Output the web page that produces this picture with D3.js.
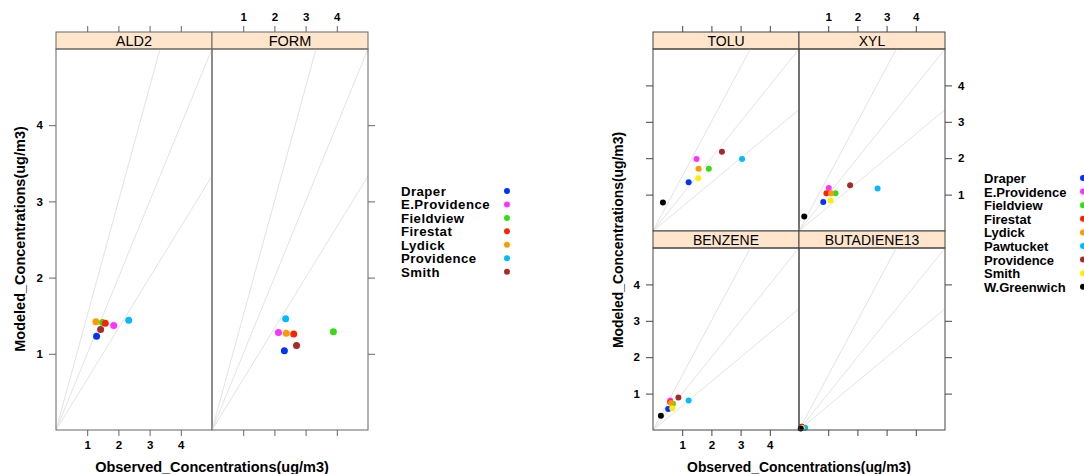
<!DOCTYPE html>
<html>
<head>
<meta charset="utf-8">
<script src="https://cdn.jsdelivr.net/npm/d3@7"></script>
<style>
  body { margin: 0; background: #fff; }
  svg { display: block; font-family: "Liberation Sans", Arial, sans-serif; }
</style>
</head>
<body>
<div id="chart"></div>
<script>
// ---- data: left lattice (7 sites) ----
const sitesA = ["Draper", "E.Providence", "Fieldview", "Firestat", "Lydick", "Providence", "Smith"]
const colorsA = ["#0033ff", "#ff33ff", "#33dd11", "#ff2200", "#ff9900", "#00bbff", "#a52a2a"]
const ald2Obs = [1.30, 1.85, 1.49, 1.58, 1.28, 2.33, 1.43]
const ald2Mod = [1.23, 1.37, 1.41, 1.40, 1.42, 1.44, 1.32]
const formObs = [2.32, 2.13, 3.89, 2.62, 2.38, 2.36, 2.71]
const formMod = [1.04, 1.28, 1.29, 1.26, 1.27, 1.46, 1.11]

// ---- data: right lattice (9 sites) ----
const sitesB = ["Draper", "E.Providence", "Fieldview", "Firestat", "Lydick", "Pawtucket", "Providence", "Smith", "W.Greenwich"]
const colorsB = ["#0033ff", "#ff33ff", "#33dd11", "#ff2200", "#ff9900", "#00bbff", "#a52a2a", "#ffee00", "#000000"]
const toluObs = [1.22, 1.49, 1.91, null, 1.56, 3.05, 2.36, 1.55, 0.34]
const toluMod = [1.34, 1.98, 1.71, null, 1.71, 1.98, 2.18, 1.45, 0.78]
const xylObs = [0.83, 1.02, 1.25, 0.94, 1.10, 2.69, 1.75, 1.08, 0.18]
const xylMod = [0.80, 1.18, 1.04, 1.04, 1.04, 1.17, 1.26, 0.84, 0.40]
const benzObs = [0.52, 0.59, 0.68, 0.59, 0.62, 1.22, 0.87, 0.66, 0.27]
const benzMod = [0.58, 0.81, 0.72, 0.76, 0.74, 0.81, 0.89, 0.60, 0.39]
const butaObs = [0.08, 0.10, 0.09, 0.09, 0.12, 0.21, 0.09, 0.10, 0.06]
const butaMod = [0.06, 0.08, 0.07, 0.09, 0.07, 0.06, 0.09, 0.06, 0.04]

const tickValues = [1, 2, 3, 4]
const refSlopes = [1.5, 1, 1 / 1.5]
const xTitle = "Observed_Concentrations(ug/m3)"
const yTitle = "Modeled_Concentrations(ug/m3)"

const svg = d3.select('#chart').append('svg')
    .attr('width', 1084)
    .attr('height', 474)

let clipId = 0
const fmt = d3.format('d')

/*
 * Draws one lattice (a grid of strip + panel cells) with alternating axes.
 */
function drawLattice(cfg) {
    const g = svg.append('g')
    const panelH = cfg.rowH - cfg.stripH

    cfg.panels.forEach(p => {
        const left = cfg.x0 + p.col * cfg.colW
        const rowTop = cfg.top + p.row * cfg.rowH
        const pTop = rowTop + cfg.stripH
        const pBot = rowTop + cfg.rowH

        const x = d3.scaleLinear().domain([0, 5]).range([left, left + cfg.colW])
        const y = d3.scaleLinear().domain([0, 5]).range([pBot, pTop])

        // strip
        g.append('rect')
            .attr('x', left).attr('y', rowTop)
            .attr('width', cfg.colW).attr('height', cfg.stripH)
            .attr('fill', '#ffe5cc')
            .attr('stroke', cfg.frame).attr('stroke-width', 1)
        g.append('text')
            .attr('x', left + cfg.colW / 2).attr('y', rowTop + cfg.stripH / 2 + 5)
            .attr('text-anchor', 'middle')
            .style('font-size', cfg.stripFont + 'px')
            .text(p.name)

        // reference lines through the origin
        const id = 'clip' + (clipId++)
        g.append('clipPath').attr('id', id)
            .append('rect')
            .attr('x', left).attr('y', pTop)
            .attr('width', cfg.colW).attr('height', panelH)
        const lines = g.append('g').attr('clip-path', `url(#${id})`)
        refSlopes.forEach(s => {
            lines.append('path')
                .datum([[0, 0], [10, 10 * s]])
                .attr('d', d3.line().x(d => x(d[0])).y(d => y(d[1])))
                .style('stroke', '#e3e3e3')
                .style('stroke-width', 1)
                .style('fill', 'none')
        })

        // points
        const pts = p.obs.map((v, i) => ({ x: v, y: p.mod[i], c: cfg.colors[i] }))
            .filter(d => d.x != null)
        g.append('g').selectAll('circle')
            .data(pts)
            .join('circle')
            .attr('cx', d => x(d.x))
            .attr('cy', d => y(d.y))
            .attr('r', cfg.r)
            .attr('fill', d => d.c)

        // panel frame
        g.append('rect')
            .attr('x', left).attr('y', pTop)
            .attr('width', cfg.colW).attr('height', panelH)
            .attr('fill', 'none')
            .attr('stroke', cfg.frame).attr('stroke-width', 1)

        const lastRow = p.row === cfg.nRows - 1
        const lastCol = p.col === cfg.nCols - 1

        // x axes: bottom row gets bottom ticks, top row gets top ticks
        if (lastRow) {
            const ax = d3.axisBottom(x).tickValues(tickValues).tickSize(6).tickSizeOuter(0).tickPadding(5)
                .tickFormat(p.col % 2 !== 0 ? '' : fmt)
            const ga = g.append('g').attr('transform', `translate(0,${pBot})`).call(ax)
            styleAxis(ga, cfg)
        }
        if (p.row === 0) {
            const ax = d3.axisTop(x).tickValues(tickValues).tickSize(6).tickSizeOuter(0).tickPadding(5)
                .tickFormat(p.col % 2 === 0 ? '' : fmt)
            const ga = g.append('g').attr('transform', `translate(0,${rowTop})`).call(ax)
            styleAxis(ga, cfg)
        }

        // y axes: alternate left / right labels by row (counted from bottom)
        const fromBottom = cfg.nRows - 1 - p.row
        if (p.col === 0) {
            const ay = d3.axisLeft(y).tickValues(tickValues).tickSize(7).tickSizeOuter(0).tickPadding(6)
                .tickFormat(fromBottom % 2 !== 0 ? '' : fmt)
            const ga = g.append('g').attr('transform', `translate(${left},0)`).call(ay)
            styleAxis(ga, cfg)
        }
        if (lastCol) {
            const ay = d3.axisRight(y).tickValues(tickValues).tickSize(7).tickSizeOuter(0).tickPadding(6)
                .tickFormat(fromBottom % 2 === 0 ? '' : fmt)
            const ga = g.append('g').attr('transform', `translate(${left + cfg.colW},0)`).call(ay)
            styleAxis(ga, cfg)
        }
    })

    // axis titles
    const midX = cfg.x0 + cfg.nCols * cfg.colW / 2
    g.append('text')
        .attr('x', midX).attr('y', 472)
        .attr('text-anchor', 'middle')
        .style('font-size', cfg.titleFont + 'px').style('font-weight', 'bold')
        .text(xTitle)
    g.append('text')
        .attr('transform', `translate(${cfg.yTitleX},${cfg.yTitleY}) rotate(-90)`)
        .attr('text-anchor', 'middle')
        .style('font-size', cfg.titleFont + 'px').style('font-weight', 'bold')
        .text(yTitle)

    // legend
    const lg = g.append('g')
    cfg.sites.forEach((s, i) => {
        const cy = cfg.legY + i * cfg.legStep
        lg.append('text')
            .attr('x', cfg.legX).attr('y', cy + 5)
            .style('font-size', cfg.legFont + 'px').style('font-weight', 'bold')
            .style('letter-spacing', cfg.legSpacing + 'px')
            .text(s)
        lg.append('circle')
            .attr('cx', cfg.legDotX).attr('cy', cy)
            .attr('r', 3)
            .attr('fill', cfg.colors[i])
    })
}

function styleAxis(ga, cfg) {
    ga.select('.domain').remove()
    ga.selectAll('line').attr('stroke', cfg.frame)
    ga.selectAll('text')
        .style('font-family', '"Liberation Sans", Arial, sans-serif')
        .style('font-size', '11.5px')
        .style('font-weight', 'bold')
        .attr('fill', '#000')
}

drawLattice({
    x0: 56, colW: 156, top: 32, stripH: 17, rowH: 398,
    nRows: 1, nCols: 2, frame: '#666', stripFont: 14.5, r: 3.5, titleFont: 14.5,
    colors: colorsA, sites: sitesA,
    panels: [
        { name: "ALD2", obs: ald2Obs, mod: ald2Mod, row: 0, col: 0 },
        { name: "FORM", obs: formObs, mod: formMod, row: 0, col: 1 }
    ],
    yTitleX: 25, yTitleY: 239,
    legX: 401, legY: 191, legStep: 13.45, legFont: 13.2, legSpacing: 0.45, legDotX: 507
})

drawLattice({
    x0: 653, colW: 146, top: 32, stripH: 17, rowH: 199,
    nRows: 2, nCols: 2, frame: '#444', stripFont: 14, r: 3, titleFont: 13.9,
    colors: colorsB, sites: sitesB,
    panels: [
        { name: "TOLU", obs: toluObs, mod: toluMod, row: 0, col: 0 },
        { name: "XYL", obs: xylObs, mod: xylMod, row: 0, col: 1 },
        { name: "BENZENE", obs: benzObs, mod: benzMod, row: 1, col: 0 },
        { name: "BUTADIENE13", obs: butaObs, mod: butaMod, row: 1, col: 1 }
    ],
    yTitleX: 623, yTitleY: 240,
    legX: 984, legY: 178, legStep: 13.6, legFont: 13, legSpacing: 0, legDotX: 1083
})
</script>
</body>
</html>
